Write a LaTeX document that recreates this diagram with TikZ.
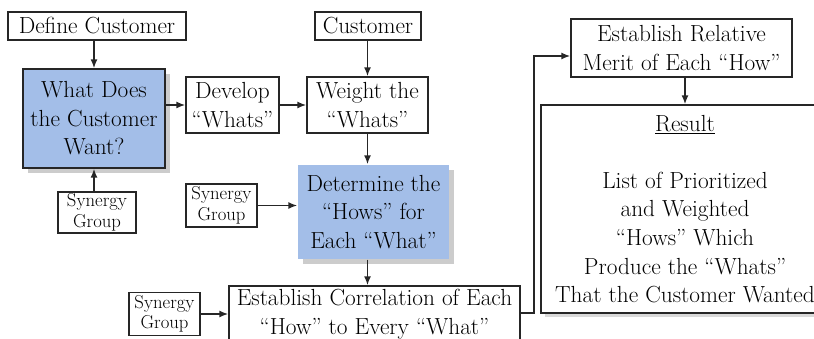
\documentclass[tikz,border=0pt]{standalone}
\usepackage{fontspec}
\usetikzlibrary{arrows, arrows.meta, shadows}
\definecolor{wantblue}{RGB}{163,190,232}
\tikzset{
  box/.style={draw=black!85, line width=1.4pt, align=center, inner sep=0pt,
    font=\fontsize{23.3}{28.6}\selectfont},
  bluebox/.style={box, fill=wantblue,
    drop shadow={shadow xshift=5pt, shadow yshift=-5pt, fill=black!20, opacity=1}},
  synbox/.style={box, font=\fontsize{18.7}{20.5}\selectfont},
  link/.style={draw=black!85, line width=1.5pt, -{Latex[length=9pt,width=7pt]}}
}

\begin{document}
\begin{tikzpicture}[x=1pt,y=-1pt]
\useasboundingbox (0,0) rectangle (814,339);
\clip (0,0) rectangle (814,339);

\node[box, minimum width=178, minimum height=28] (define) at (97,26) {Define Customer};
\node[bluebox, minimum width=142, minimum height=99] (want) at (94,118.5) {What Does\\the Customer\\Want?};
\node[box, minimum width=93, minimum height=56] (develop) at (232.5,105) {Develop\\“Whats”};
\node[box, minimum width=106, minimum height=28] (customer) at (368,26) {Customer};
\node[box, minimum width=121, minimum height=56] (weight) at (367.5,105) {Weight the\\“Whats”};

\node[synbox, minimum width=78, minimum height=41] (syn1) at (97,212.5) {Synergy\\Group};
\node[synbox, minimum width=71, minimum height=43] (syn2) at (221.5,205.5) {Synergy\\Group};
\node[bluebox, draw=none, minimum width=151, minimum height=94] (determine) at (373.5,212) {Determine the\\“Hows” for\\Each “What”};

\node[synbox, minimum width=71, minimum height=43] (syn3) at (164.5,314) {Synergy\\Group};
\node[box, minimum width=291, minimum height=56] (correlation) at (374.5,314) {Establish Correlation of Each\\“How” to Every “What”};

\node[box, minimum width=221, minimum height=58] (relative) at (681.5,48) {Establish Relative\\Merit of Each “How”};
\node[box, fill=white, minimum width=288, minimum height=208,
  drop shadow={shadow xshift=4pt, shadow yshift=-4pt, fill=black!15, opacity=1}] (result) at (685,209)
  {\underline{Result}\\[28.6pt]List of Prioritized\\and Weighted\\“Hows” Which\\Produce the “Whats”\\That the Customer Wanted};

\coordinate (bend) at (534,313);
\coordinate (relin) at ([yshift=-8pt]relative.west);

\draw[link] (want.north |- define.south) -- (want.north);
\draw[link] (want.east |- develop.west) -- (develop.west);
\draw[link] (develop.east) -- (weight.west);
\draw[link] (weight.north |- customer.south) -- (weight.north);
\draw[link] (weight.south) -- (weight.south |- determine.north);
\draw[link] (want.south |- syn1.north) -- (want.south);
\draw[link] (syn2.east) -- (syn2.east -| determine.west);
\draw[link] (weight.south |- determine.south) -- (weight.south |- correlation.north);
\draw[link] (syn3.east) -- (correlation.west);
\draw[link] (correlation.east |- bend) -- (bend) |- (relin);
\draw[link] (result.north |- relative.south) -- (result.north);
\end{tikzpicture}
\end{document}
